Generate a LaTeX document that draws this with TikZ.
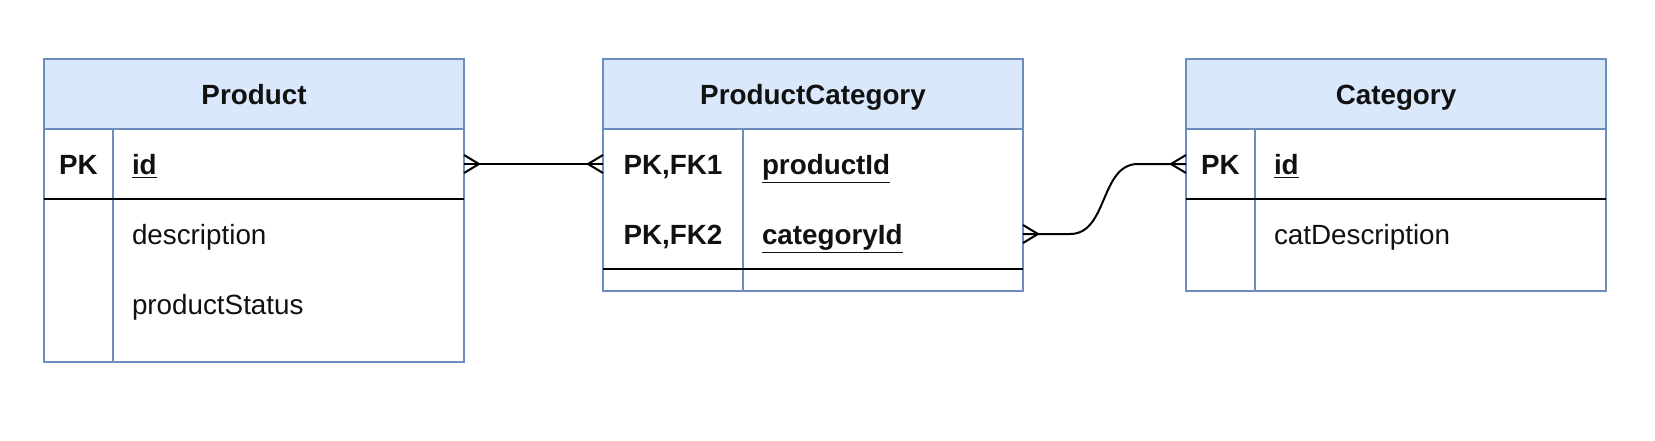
\documentclass[tikz,border=0pt]{standalone}
\usepackage{fontspec}
\setmainfont{Liberation Sans}
\usepackage{tikz}
\usepackage{xcolor}
\usetikzlibrary{positioning,calc}
\definecolor{erhead}{HTML}{DAE8FC}
\definecolor{erline}{HTML}{6C8EBF}
\definecolor{text}{HTML}{111111}
\newcommand{\erfont}{\fontsize{13.9}{16.7}\selectfont}
\tikzset{
  hdr/.style={draw=erline, fill=erhead, line width=1pt, outer sep=0pt, inner sep=0pt,
              minimum width=210pt, minimum height=35pt, anchor=north west,
              text height=10pt, text depth=0pt, font=\erfont\bfseries, text=text},
  tbody/.style={draw=erline, fill=white, line width=1pt, outer sep=0pt, inner sep=0pt,
                minimum width=210pt},
  keycell/.style={outer sep=0pt, inner sep=0pt, minimum height=35pt,
                  text height=10pt, text depth=0pt, font=\erfont\bfseries, text=text},
  fieldcell/.style={outer sep=0pt, inner sep=0pt, inner xsep=9.5pt, minimum height=35pt,
                    text height=10pt, text depth=0pt, align=left, font=\erfont, text=text},
  divider/.style={draw=erline, line width=1pt},
  keyline/.style={draw=black, line width=1pt},
  rel/.style={draw=black, line width=1pt}
}
% crow's foot (many) at a table side; #2 = 1 right side, -1 left side
\newcommand{\crowsfoot}[2]{%
  \draw[rel] ($(#1)+(#2*7.5,0)$) -- ($(#1)+(0,4.5)$)
             ($(#1)+(#2*7.5,0)$) -- ($(#1)+(0,-4.5)$);}

\begin{document}
\begin{tikzpicture}[x=1pt,y=1pt]
    \fill[white] (0,0) rectangle (827.5,-220);

    % Product
    \node[hdr] (prodHead) at (22,-29.5) {Product};
    \node[tbody,minimum height=116.5pt,below=0pt of prodHead] (prodBody) {};
    \node[keycell,minimum width=34.5pt,anchor=north west] (prodPK) at (prodBody.north west) {PK};
    \node[fieldcell,text width=156.5pt,right=0pt of prodPK] (prodId) {\textbf{\underline{id}}};
    \node[fieldcell,text width=156.5pt,below=0pt of prodId] (prodDesc) {description};
    \node[fieldcell,text width=156.5pt,below=0pt of prodDesc] (prodStatus) {productStatus};
    \draw[divider] (prodPK.north east) -- (prodPK.north east |- prodBody.south);
    \draw[keyline] (prodBody.west |- prodPK.south) -- (prodBody.east |- prodPK.south);

    % ProductCategory
    \node[hdr] (pcHead) at (301.5,-29.5) {ProductCategory};
    \node[tbody,minimum height=81pt,below=0pt of pcHead] (pcBody) {};
    \node[keycell,minimum width=70pt,anchor=north west] (pcKey1) at (pcBody.north west) {PK,FK1};
    \node[keycell,minimum width=70pt,below=0pt of pcKey1] (pcKey2) {PK,FK2};
    \node[fieldcell,text width=121pt,right=0pt of pcKey1] (pcProdId) {\textbf{\underline{productId}}};
    \node[fieldcell,text width=121pt,right=0pt of pcKey2] (pcCatId) {\textbf{\underline{categoryId}}};
    \draw[divider] (pcKey1.north east) -- (pcKey1.north east |- pcBody.south);
    \draw[keyline] (pcBody.west |- pcKey2.south) -- (pcBody.east |- pcKey2.south);

    % Category
    \node[hdr] (catHead) at (593,-29.5) {Category};
    \node[tbody,minimum height=81pt,below=0pt of catHead] (catBody) {};
    \node[keycell,minimum width=34.5pt,anchor=north west] (catPK) at (catBody.north west) {PK};
    \node[fieldcell,text width=156.5pt,right=0pt of catPK] (catId) {\textbf{\underline{id}}};
    \node[fieldcell,text width=156.5pt,below=0pt of catId] (catDesc) {catDescription};
    \draw[divider] (catPK.north east) -- (catPK.north east |- catBody.south);
    \draw[keyline] (catBody.west |- catPK.south) -- (catBody.east |- catPK.south);

    % relations
    \draw[rel] (prodId.east) -- (pcKey1.west);
    \crowsfoot{prodId.east}{1}
    \crowsfoot{pcKey1.west}{-1}
    \draw[rel] (pcCatId.east) -- ++(23.5,0) to[out=0,in=180] ($(catPK.west)+(-24,0)$) -- (catPK.west);
    \crowsfoot{pcCatId.east}{1}
    \crowsfoot{catPK.west}{-1}
\end{tikzpicture}
\end{document}
